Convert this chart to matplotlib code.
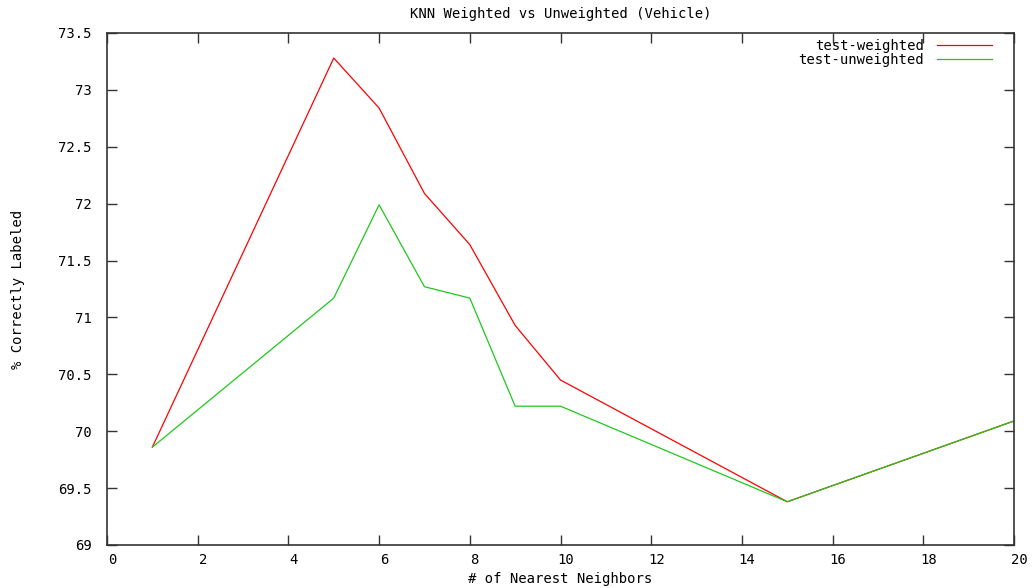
import numpy as np
import matplotlib
matplotlib.use('Agg')
from matplotlib import pyplot as plt
from matplotlib import transforms

# test accuracy (%) vs k
k = [1, 5, 6, 7, 8, 9, 10, 15, 20]
weighted = [69.86, 73.28, 72.84, 72.09, 71.64, 70.93, 70.45, 69.38, 70.09]
unweighted = [69.86, 71.17, 71.99, 71.27, 71.17, 70.22, 70.22, 69.38, 70.09]

xticks = np.arange(0, 21, 2)
yticks = np.arange(69, 73.51, 0.5)
ytick_labels = ['69', '69.5', '70', '70.5', '71', '71.5', '72', '72.5', '73', '73.5']

plt.rcParams['font.family'] = 'DejaVu Sans Mono'
plt.rcParams['font.size'] = 10

fig = plt.figure(figsize=(10.33, 5.88), dpi=100)
ax = fig.add_axes([107 / 1033, 1 - 545 / 588, (1014 - 107) / 1033, (545 - 33) / 588])

ax.plot(k, weighted, color='#ff0000', lw=0.9, label='test-weighted')
ax.plot(k, unweighted, color='#1ec81e', lw=0.9, label='test-unweighted')

ax.set_xlim(0, 20)
ax.set_ylim(69, 73.5)
ax.set_xticks(xticks)
ax.set_yticks(yticks)
ax.set_yticklabels(ytick_labels)
ax.tick_params(direction='in', length=7, width=1, color='#333333',
               top=True, right=True, labelsize=10)
ax.tick_params(axis='y', pad=11)
ax.tick_params(axis='x', pad=6)
for lab in ax.get_xticklabels():
    lab.set_transform(lab.get_transform() +
                      transforms.ScaledTranslation(0.05, 0, fig.dpi_scale_trans))
for s in ax.spines.values():
    s.set_color('#333333')
    s.set_linewidth(1.2)

ax.set_title('KNN Weighted vs Unweighted (Vehicle)', fontsize=10, pad=11)
ax.set_xlabel('# of Nearest Neighbors', fontsize=10, labelpad=3)
ax.set_ylabel('% Correctly Labeled', fontsize=10, labelpad=24)

ax.legend(loc='upper right', bbox_to_anchor=(0.976, 0.989), frameon=False,
          markerfirst=False, handlelength=4, handletextpad=0.9,
          labelspacing=0.05, borderpad=0, borderaxespad=0, fontsize=10)

fig.savefig('out.png', dpi=100)
